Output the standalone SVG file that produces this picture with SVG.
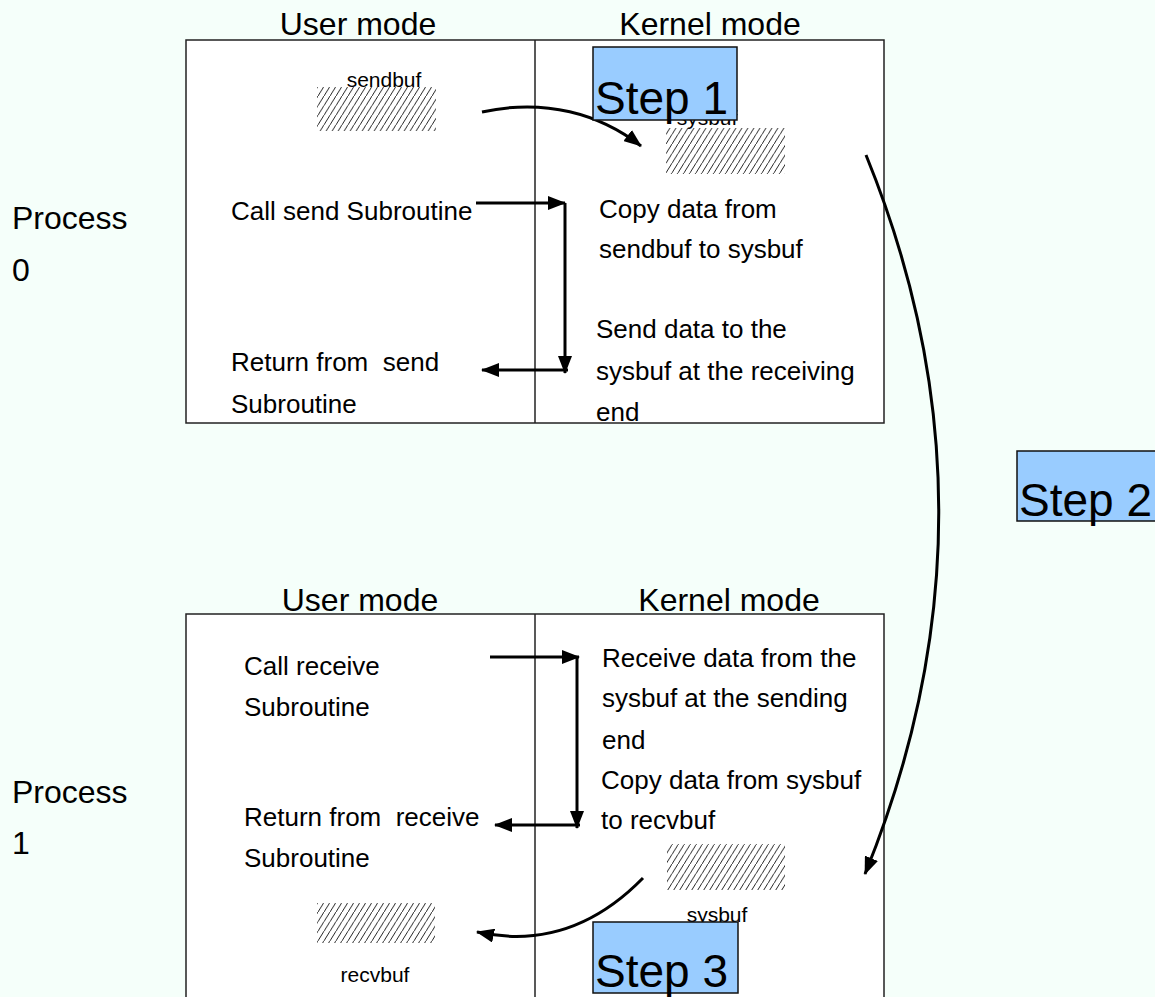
<svg xmlns="http://www.w3.org/2000/svg" width="1155" height="997" viewBox="0 0 1155 997">
  <defs>
    <pattern id="hatch" patternUnits="userSpaceOnUse" width="6" height="9.6">
      <path d="M-1,11.2 L7,-1.6" stroke="#111" stroke-width="0.9"/>
    </pattern>
    <marker id="arrow" viewBox="0 0 18 14" refX="17" refY="7" markerWidth="18" markerHeight="14" markerUnits="userSpaceOnUse" orient="auto">
      <path d="M0,0 L18,7 L0,14 Z" fill="#000"/>
    </marker>
  </defs>
  <style>
    text { font-family: "Liberation Sans", Arial, sans-serif; fill: #000; white-space: pre; }
    .title { font-size: 32px; }
    .proc { font-size: 32px; }
    .body { font-size: 26px; }
    .buf { font-size: 21px; }
    .step { font-size: 46px; }
    .frame { fill: #fff; stroke: #222; stroke-width: 1.5; }
    .divider { stroke: #222; stroke-width: 1.5; }
    .stepbox { fill: #99CCFF; stroke: #111; stroke-width: 1.5; }
    .conn { fill: none; stroke: #000; stroke-width: 3; marker-end: url(#arrow); }
    .hatch { fill: url(#hatch); }
  </style>

  <rect width="1155" height="997" fill="#F5FFFA"/>

  <!-- Process 0 -->
  <g id="process0">
    <text class="proc" x="12" y="229">Process</text>
    <text class="proc" x="12" y="281">0</text>
    <text class="title" x="358" y="35" text-anchor="middle">User mode</text>
    <text class="title" x="710" y="35" text-anchor="middle">Kernel mode</text>
    <rect class="frame" x="186" y="40" width="698" height="383"/>
    <line class="divider" x1="535" y1="40" x2="535" y2="423"/>
  </g>

  <g id="sendbuf">
    <rect class="hatch" x="317" y="87" width="119" height="44"/>
    <text class="buf" x="384" y="87" text-anchor="middle">sendbuf</text>
  </g>

  <g id="sysbuf0">
    <rect class="hatch" x="666" y="128" width="119" height="46"/>
    <text class="buf" x="707" y="125" text-anchor="middle">sysbuf</text>
  </g>

  <g id="call-send">
    <text class="body" x="231" y="220">Call send Subroutine</text>
  </g>
  <g id="return-send">
    <text class="body" x="231" y="371">Return from  send</text>
    <text class="body" x="231" y="413">Subroutine</text>
  </g>
  <g id="copy-send">
    <text class="body" x="599" y="218">Copy data from</text>
    <text class="body" x="599" y="258">sendbuf to sysbuf</text>
  </g>
  <g id="send-data">
    <text class="body" x="596" y="338">Send data to the</text>
    <text class="body" x="596" y="380">sysbuf at the receiving</text>
    <text class="body" x="596" y="421">end</text>
  </g>

  <!-- Process 1 -->
  <g id="process1">
    <text class="proc" x="12" y="803">Process</text>
    <text class="proc" x="12" y="854">1</text>
    <text class="title" x="360" y="611" text-anchor="middle">User mode</text>
    <text class="title" x="729" y="611" text-anchor="middle">Kernel mode</text>
    <rect class="frame" x="186" y="614" width="698" height="390"/>
    <line class="divider" x1="535" y1="614" x2="535" y2="1004"/>
  </g>

  <g id="call-receive">
    <text class="body" x="244" y="675">Call receive</text>
    <text class="body" x="244" y="716">Subroutine</text>
  </g>
  <g id="return-receive">
    <text class="body" x="244" y="826">Return from  receive</text>
    <text class="body" x="244" y="867">Subroutine</text>
  </g>
  <g id="receive-data">
    <text class="body" x="602" y="667">Receive data from the</text>
    <text class="body" x="602" y="707">sysbuf at the sending</text>
    <text class="body" x="602" y="749">end</text>
  </g>
  <g id="copy-receive">
    <text class="body" x="601" y="789">Copy data from sysbuf</text>
    <text class="body" x="601" y="829">to recvbuf</text>
  </g>

  <g id="sysbuf1">
    <rect class="hatch" x="667" y="844" width="118" height="46"/>
    <text class="buf" x="717" y="922" text-anchor="middle">sysbuf</text>
  </g>

  <g id="recvbuf">
    <rect class="hatch" x="317" y="903" width="118" height="40"/>
    <text class="buf" x="375" y="982" text-anchor="middle">recvbuf</text>
  </g>

  <!-- connectors -->
  <g id="connectors">
    <path class="conn" d="M476,203 L565,203"/>
    <path class="conn" d="M565,203 L565,373"/>
    <path class="conn" d="M568,370 L482,370"/>
    <path class="conn" d="M490,657 L579,657"/>
    <path class="conn" d="M577,657 L577,828"/>
    <path class="conn" d="M580,825 L495,825"/>
    <path class="conn" d="M482,112 C545,98 600,114 641,146"/>
    <path class="conn" d="M866,155 Q1012,513 865,874"/>
    <path class="conn" d="M643,878 C600,922 545,947 477,932"/>
  </g>

  <!-- step labels -->
  <g id="step1">
    <rect class="stepbox" x="593" y="47" width="144" height="73"/>
    <text class="step" x="595" y="114">Step 1</text>
  </g>
  <g id="step2">
    <rect class="stepbox" x="1017" y="451" width="150" height="70"/>
    <text class="step" x="1019" y="516">Step 2</text>
  </g>
  <g id="step3">
    <rect class="stepbox" x="593" y="922" width="145" height="71"/>
    <text class="step" x="595" y="987">Step 3</text>
  </g>
</svg>
